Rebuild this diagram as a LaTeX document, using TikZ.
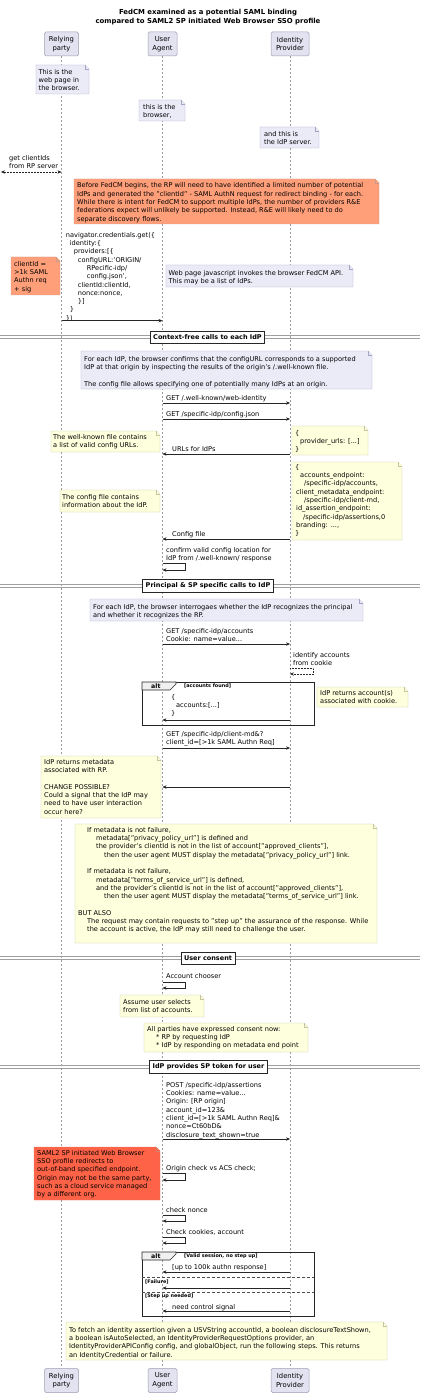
\documentclass[tikz,border=0pt]{standalone}
\usepackage{fontspec}
\setmainfont{DejaVu Sans}
\usetikzlibrary{arrows.meta}
\definecolor{partfill}{HTML}{E2E2F0}
\definecolor{partdraw}{HTML}{9C9CB4}
\definecolor{lavfill}{HTML}{EBEBF8}
\definecolor{lavdraw}{HTML}{A4A4C4}
\definecolor{yelfill}{HTML}{FEFFDD}
\definecolor{yeldraw}{HTML}{C4C4A0}
\definecolor{orfill}{HTML}{FF9F7A}
\definecolor{ordraw}{HTML}{C89C8C}
\definecolor{redfill}{HTML}{FF6347}
\definecolor{reddraw}{HTML}{D88070}
\begin{document}
\begin{tikzpicture}[x=1pt,y=-1pt,>={Stealth[length=4pt,width=3.4pt]},
    txt/.style={font=\fontsize{6.6}{8.3}\selectfont,inner sep=0pt,align=left,anchor=north west},
    part/.style={draw=partdraw,fill=partfill,rounded corners=1.5pt,line width=0.5pt,
      font=\fontsize{6.8}{8.6}\selectfont,align=center,minimum height=24pt,inner xsep=2pt},
    life/.style={draw=gray!80,line width=0.4pt,dash pattern=on 2pt off 2pt},
    msg/.style={->,draw=black!85,line width=0.5pt},
    ret/.style={msg,densely dotted},
    lnote/.style={fill=lavfill,draw=lavdraw,line width=0.4pt},
    ynote/.style={fill=yelfill,draw=yeldraw,line width=0.4pt},
    onote/.style={fill=orfill,draw=ordraw,line width=0.4pt},
    rnote/.style={fill=redfill,draw=reddraw,line width=0.4pt},
    div/.style={draw=gray!75,line width=0.8pt},
    divbox/.style={draw=black!85,fill=white,line width=0.8pt,inner xsep=3pt,
      minimum height=12pt,font=\fontsize{6.5}{8.3}\selectfont\bfseries},
    frame/.style={draw=black!85,line width=0.9pt},
    tab/.style={fill=gray!12,draw=black!85,line width=0.6pt},
    cond/.style={font=\fontsize{4.9}{6}\selectfont\bfseries,inner sep=0pt,anchor=west},
    sep/.style={draw=black!70,line width=0.4pt,densely dashed}]
  \useasboundingbox (0,0) rectangle (420,1396);
  % title
  \node[font=\fontsize{6.9}{9}\selectfont\bfseries,align=center,inner sep=0pt] (ttl) at (208,17) {FedCM examined as a potential SAML binding\\compared to SAML2 SP initiated Web Browser SSO profile};
  % participants
  \node[part,minimum width=34pt] (rp) at (61.5,44) {Relying\\party};
  \node[part,minimum width=29pt] (ua) at (162.5,44) {User\\Agent};
  \node[part,minimum width=38pt] (idp) at (290,44) {Identity\\Provider};
  \node[part,minimum width=34pt] (rpB) at (61.5,1380.5) {Relying\\party};
  \node[part,minimum width=29pt] (uaB) at (162.5,1380.5) {User\\Agent};
  \node[part,minimum width=38pt] (idpB) at (290,1380.5) {Identity\\Provider};
  \draw[life] (rp) -- (rpB);
  \draw[life] (ua) -- (uaB);
  \draw[life] (idp) -- (idpB);
  % who is who
  \filldraw[lnote] (36,65) -- (85,65) -- (89,69) -- (89,94) -- (36,94) -- cycle;
  \draw[lnote] (85,65) |- (89,69);
  \node[txt] (n1) at (38.5,69) {This is the\\web page in\\the browser.};
  \filldraw[lnote] (139,100) -- (181,100) -- (185,104) -- (185,121) -- (139,121) -- cycle;
  \draw[lnote] (181,100) |- (185,104);
  \node[txt] (n2) at (143,104) {this is the\\browser,};
  \filldraw[lnote] (260,127) -- (315,127) -- (319,131) -- (319,148) -- (260,148) -- cycle;
  \draw[lnote] (315,127) |- (319,131);
  \node[txt] (n3) at (264,131) {and this is\\the IdP server.};
  % client ids
  \node[txt] (getc) at (9,155) {get clientIds\\from RP server};
  \coordinate (rpsrv) at (1,172);
  \draw[ret,<->] (rpsrv) -- (rp |- rpsrv);
  \filldraw[onote] (74,179) -- (375,179) -- (379,183) -- (379,224) -- (74,224) -- cycle;
  \draw[onote] (375,179) |- (379,183);
  \node[txt] (n5) at (77,182.7) {Before FedCM begins, the RP will need to have identified a limited number of potential\\IdPs and generated the "clientId" - SAML AuthN request for redirect binding - for each.\\While there is intent for FedCM to support multiple IdPs, the number of providers R\&E\\federations expect will unlikely be supported. Instead, R\&E will likely need to do\\separate discovery flows.};
  % credentials.get
  \node[txt] (navi) at (65.7,232) {navigator.credentials.get(\{\\\hspace*{4pt}identity:\{\\\hspace*{8pt}providers:[\{\\\hspace*{12pt}configURL:'ORIGIN/\\\hspace*{21pt}RPecific-idp/\\\hspace*{21pt}config.json',\\\hspace*{12pt}clientId:clientId,\\\hspace*{12pt}nonce:nonce,\\\hspace*{12pt}\}]\\\hspace*{4pt}\}\\\})};
  \draw[msg] (rp |- 0,320.7) -- (ua |- 0,320.7);
  \filldraw[onote] (11,257) -- (56,257) -- (60,261) -- (60,295) -- (11,295) -- cycle;
  \draw[onote] (56,257) |- (60,261);
  \node[txt] (n7) at (14,261) {clientId =\\>1k SAML\\Authn req\\+ sig};
  \filldraw[lnote] (166,265) -- (349,265) -- (353,269) -- (353,287) -- (166,287) -- cycle;
  \draw[lnote] (349,265) |- (353,269);
  \node[txt] (n8) at (168.3,270) {Web page javascript invokes the browser FedCM API.\\This may be a list of IdPs.};
  % context-free calls
  \draw[div] (0,335.7) -- (420,335.7);
  \draw[div] (0,338.3) -- (420,338.3);
  \node[divbox] (d1) at (207.5,337) {Context-free calls to each IdP};
  \filldraw[lnote] (81,351) -- (368,351) -- (372,355) -- (372,389) -- (81,389) -- cycle;
  \draw[lnote] (368,351) |- (372,355);
  \node[txt] (n10) at (84,356) {For each IdP, the browser confirms that the configURL corresponds to a supported\\IdP at that origin by inspecting the results of the origin's /.well-known file.\\[8.3pt]The config file allows specifying one of potentially many IdPs at an origin.};
  \node[txt] (m11) at (166,395) {GET /.well-known/web-identity};
  \draw[msg] (ua |- 0,403) -- (idp |- 0,403);
  \node[txt] (m12) at (166,411) {GET /specific-idp/config.json};
  \draw[msg] (ua |- 0,419) -- (idp |- 0,419);
  \filldraw[ynote] (51,431) -- (156,431) -- (160,435) -- (160,452) -- (51,452) -- cycle;
  \draw[ynote] (156,431) |- (160,435);
  \node[txt] (n13) at (53,434) {The well-known file contains\\a list of valid config URLs.};
  \filldraw[ynote] (292,426) -- (364,426) -- (368,430) -- (368,455) -- (292,455) -- cycle;
  \draw[ynote] (364,426) |- (368,430);
  \node[txt] (n14) at (295,430) {\{\\\hspace*{5pt}provider\_urls: [...]\\\}};
  \node[txt] (m15) at (172,446) {URLs for IdPs};
  \draw[msg] (idp |- 0,454) -- (ua |- 0,454);
  \filldraw[ynote] (292,462) -- (398,462) -- (402,466) -- (402,540) -- (292,540) -- cycle;
  \draw[ynote] (398,462) |- (402,466);
  \node[txt] (n16) at (295,464) {\{\\\hspace*{5pt}accounts\_endpoint:\\\hspace*{9pt}/specific-idp/accounts,\\\hspace*{1pt}client\_metadata\_endpoint:\\\hspace*{9pt}/specific-idp/client-md,\\\hspace*{1pt}id\_assertion\_endpoint:\\\hspace*{8pt}/specific-idp/assertions,0\\\hspace*{1pt}branding: ...,\\\}};
  \filldraw[ynote] (60,490) -- (156,490) -- (160,494) -- (160,512) -- (60,512) -- cycle;
  \draw[ynote] (156,490) |- (160,494);
  \node[txt] (n17) at (62,494) {The config file contains\\information about the IdP.};
  \node[txt] (m18) at (172,531) {Config file};
  \draw[msg] (idp |- 0,539) -- (ua |- 0,539);
  \node[txt] (m19) at (166,547) {confirm valid config location for\\IdP from /.well-known/ response};
  \draw[msg] (ua |- 0,563) -- (185,563) -- (185,570) -- (ua |- 0,570);
  % principal and SP specific calls
  \draw[div] (0,584.7) -- (420,584.7);
  \draw[div] (0,587.3) -- (420,587.3);
  \node[divbox] (d2) at (208,586) {Principal \& SP specific calls to IdP};
  \filldraw[lnote] (90,599) -- (359,599) -- (363,603) -- (363,621) -- (90,621) -- cycle;
  \draw[lnote] (359,599) |- (363,603);
  \node[txt] (n21) at (93,604) {For each IdP, the browser interrogaes whether the IdP recognizes the principal\\and whether it recognizes the RP.};
  \node[txt] (m22) at (166,628) {GET /specific-idp/accounts\\Cookie: name=value...};
  \draw[msg] (ua |- 0,644) -- (idp |- 0,644);
  \node[txt] (m23) at (293,652) {identify accounts\\from cookie};
  \draw[ret] (idp |- 0,668) -- (313,668) -- (313,674) -- (idp |- 0,674);
  \draw[frame] (142,682) rectangle (314,725);
  \filldraw[tab] (142,682) -- (176,682) -- (176,684) -- (170,690) -- (142,690) -- cycle;
  \node[cond,font=\fontsize{6.2}{8}\selectfont\bfseries] (alt1) at (151,686) {alt};
  \node[cond] (c1) at (184,686) {[accounts found]};
  \node[txt] (m24) at (171,694) {\{\\\hspace*{5pt}accounts:[...]\\\}};
  \draw[msg] (idp |- 0,720) -- (ua |- 0,720);
  \filldraw[ynote] (317,687) -- (404,687) -- (408,691) -- (408,707) -- (317,707) -- cycle;
  \draw[ynote] (404,687) |- (408,691);
  \node[txt] (n25) at (320,690) {IdP returns account(s)\\associated with cookie.};
  \node[txt] (m26) at (166,731) {GET /specific-idp/client-md\&?\\client\_id=[>1k SAML Authn Req]};
  \draw[msg] (ua |- 0,748) -- (idp |- 0,748);
  \filldraw[ynote] (41,756) -- (157,756) -- (161,760) -- (161,818) -- (41,818) -- cycle;
  \draw[ynote] (157,756) |- (161,760);
  \node[txt] (n27) at (44,759) {IdP returns metadata\\associated with RP.\\[8.3pt]CHANGE POSSIBLE?\\Could a signal that the IdP may\\need to have user interaction\\occur here?};
  \draw[msg] (idp |- 0,787) -- (ua |- 0,787);
  \filldraw[ynote] (75,824) -- (373,824) -- (377,828) -- (377,943) -- (75,943) -- cycle;
  \draw[ynote] (373,824) |- (377,828);
  \node[txt] (n29) at (78,827) {\hspace*{9pt}If metadata is not failure,\\\hspace*{18pt}metadata["privacy\_policy\_url"] is defined and\\\hspace*{18pt}the provider's clientId is not in the list of account["approved\_clients"],\\\hspace*{26pt}then the user agent MUST display the metadata["privacy\_policy\_url"] link.\\[8.3pt]\hspace*{9pt}If metadata is not failure,\\\hspace*{18pt}metadata["terms\_of\_service\_url"] is defined,\\\hspace*{18pt}and the provider's clientId is not in the list of account["approved\_clients"],\\\hspace*{26pt}then the user agent MUST display the metadata["terms\_of\_service\_url"] link.\\[8.3pt]BUT ALSO\\\hspace*{9pt}The request may contain requests to "step up" the assurance of the response. While\\\hspace*{9pt}the account is active, the IdP may still need to challenge the user.};
  % user consent
  \draw[div] (0,956.7) -- (420,956.7);
  \draw[div] (0,959.3) -- (420,959.3);
  \node[divbox] (d3) at (208,958) {User consent};
  \node[txt] (m31) at (166,973) {Account chooser};
  \draw[msg] (ua |- 0,982) -- (185,982) -- (185,988) -- (ua |- 0,988);
  \filldraw[ynote] (120,995) -- (200,995) -- (204,999) -- (204,1017) -- (120,1017) -- cycle;
  \draw[ynote] (200,995) |- (204,999);
  \node[txt] (n32) at (123,999) {Assume user selects\\from list of accounts.};
  \filldraw[ynote] (144,1023) -- (304,1023) -- (308,1027) -- (308,1052) -- (144,1052) -- cycle;
  \draw[ynote] (304,1023) |- (308,1027);
  \node[txt] (n33) at (147,1026) {All parties have expressed consent now:\\\hspace*{9pt}* RP by requesting IdP\\\hspace*{9pt}* IdP by responding on metadata end point};
  % token
  \draw[div] (0,1065.7) -- (420,1065.7);
  \draw[div] (0,1068.3) -- (420,1068.3);
  \node[divbox] (d4) at (208.5,1067) {IdP provides SP token for user};
  \node[txt] (m35) at (166,1082) {POST /specific-idp/assertions\\Cookies: name=value...\\Origin: [RP origin]\\account\_id=123\&\\client\_id=[>1k SAML Authn Req]\&\\nonce=Ct60bD\&\\disclosure\_text\_shown=true};
  \draw[msg] (ua |- 0,1139) -- (idp |- 0,1139);
  \filldraw[rnote] (34,1147) -- (156,1147) -- (160,1151) -- (160,1200) -- (34,1200) -- cycle;
  \draw[rnote] (156,1147) |- (160,1151);
  \node[txt] (n36) at (37,1150) {SAML2 SP initiated Web Browser\\SSO profile redirects to\\out-of-band specified endpoint.\\Origin may not be the same party,\\such as a cloud service managed\\by a different org.};
  \node[txt] (m37) at (166,1165) {Origin check vs ACS check;};
  \draw[msg] (ua |- 0,1173) -- (185,1173) -- (185,1180) -- (ua |- 0,1180);
  \node[txt] (m38) at (166,1207) {check nonce};
  \draw[msg] (ua |- 0,1215) -- (185,1215) -- (185,1221) -- (ua |- 0,1221);
  \node[txt] (m39) at (166,1229) {Check cookies, account};
  \draw[msg] (ua |- 0,1237) -- (185,1237) -- (185,1243) -- (ua |- 0,1243);
  \draw[frame] (142,1252) rectangle (314,1316);
  \filldraw[tab] (142,1252) -- (176,1252) -- (176,1254) -- (170,1260) -- (142,1260) -- cycle;
  \node[cond,font=\fontsize{6.2}{8}\selectfont\bfseries] (alt2) at (151,1256) {alt};
  \node[cond] (c2) at (184,1256) {[Valid session, no step up]};
  \node[txt] (m40) at (172,1264) {[up to 100k authn response]};
  \draw[msg] (idp |- 0,1272) -- (ua |- 0,1272);
  \draw[sep] (142,1277) -- (314,1277);
  \node[cond] (c3) at (145,1281.5) {[Failure]};
  \draw[msg] (idp |- 0,1288) -- (ua |- 0,1288);
  \draw[sep] (142,1292) -- (314,1292);
  \node[cond] (c4) at (145,1296.5) {[Step up needed]};
  \node[txt] (m41) at (172,1304) {need control signal};
  \draw[msg] (idp |- 0,1311) -- (ua |- 0,1311);
  \filldraw[ynote] (66,1322) -- (383,1322) -- (387,1326) -- (387,1360) -- (66,1360) -- cycle;
  \draw[ynote] (383,1322) |- (387,1326);
  \node[txt] (n41) at (69,1327) {To fetch an identity assertion given a USVString accountId, a boolean disclosureTextShown,\\a boolean isAutoSelected, an IdentityProviderRequestOptions provider, an\\IdentityProviderAPIConfig config, and globalObject, run the following steps. This returns\\an IdentityCredential or failure.};
\end{tikzpicture}
\end{document}
